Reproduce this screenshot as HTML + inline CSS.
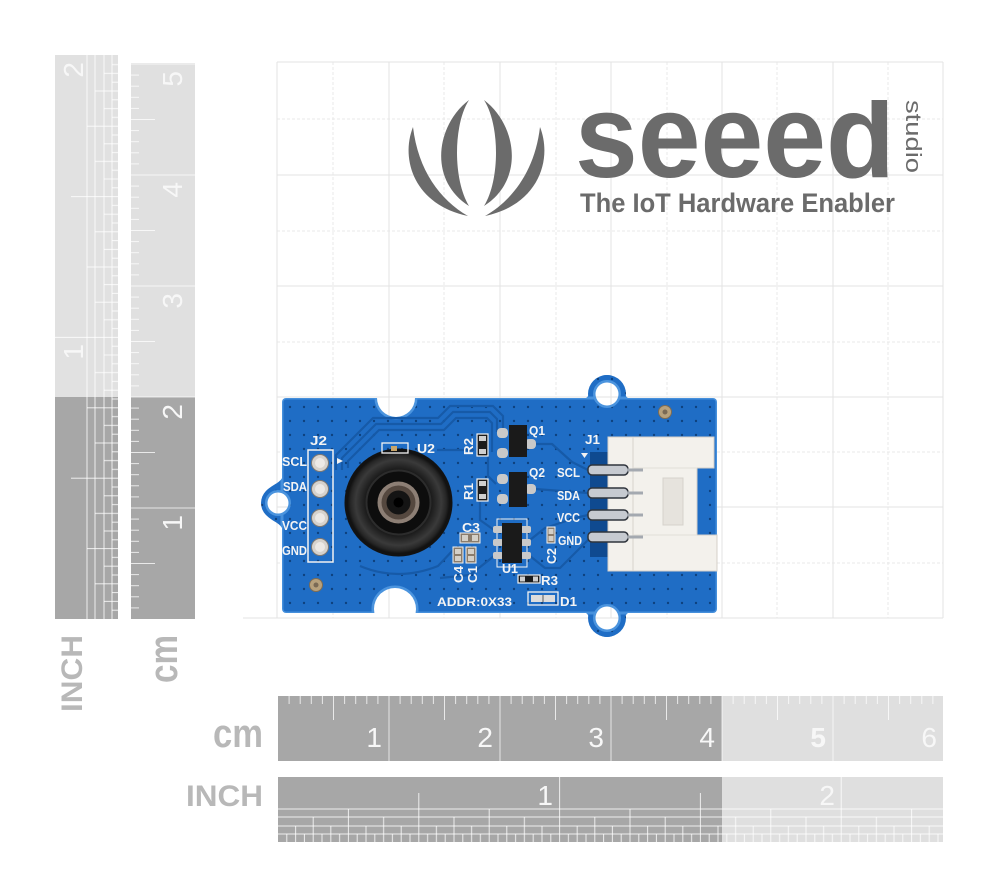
<!DOCTYPE html>
<html>
<head>
<meta charset="utf-8">
<style>
  html,body{margin:0;padding:0;background:#fff;}
  svg{display:block;}
</style>
</head>
<body>
<svg width="998" height="894" viewBox="0 0 998 894" xmlns="http://www.w3.org/2000/svg" font-family="'Liberation Sans', sans-serif">
  <defs>
    <pattern id="cmT" width="111" height="65" patternUnits="userSpaceOnUse">
      <g stroke="#ffffff" stroke-opacity="0.75" stroke-width="1">
        <line x1="11.1" y1="0" x2="11.1" y2="8"/>
        <line x1="22.2" y1="0" x2="22.2" y2="8"/>
        <line x1="33.3" y1="0" x2="33.3" y2="8"/>
        <line x1="44.4" y1="0" x2="44.4" y2="8"/>
        <line x1="55.5" y1="0" x2="55.5" y2="24"/>
        <line x1="66.6" y1="0" x2="66.6" y2="8"/>
        <line x1="77.7" y1="0" x2="77.7" y2="8"/>
        <line x1="88.8" y1="0" x2="88.8" y2="8"/>
        <line x1="99.9" y1="0" x2="99.9" y2="8"/>
      </g>
    </pattern>
    <pattern id="inT" width="281.6" height="65" patternUnits="userSpaceOnUse">
      <g stroke="#ffffff" stroke-opacity="0.8" stroke-width="1">
        <line x1="140.8" y1="16" x2="140.8" y2="65"/>
        <line x1="70.4" y1="32" x2="70.4" y2="65"/>
        <line x1="211.2" y1="32" x2="211.2" y2="65"/>
        <line x1="35.2" y1="40" x2="35.2" y2="65"/>
        <line x1="105.6" y1="40" x2="105.6" y2="65"/>
        <line x1="176" y1="40" x2="176" y2="65"/>
        <line x1="246.4" y1="40" x2="246.4" y2="65"/>
        <line x1="17.6" y1="49" x2="17.6" y2="65"/>
        <line x1="52.8" y1="49" x2="52.8" y2="65"/>
        <line x1="88" y1="49" x2="88" y2="65"/>
        <line x1="123.2" y1="49" x2="123.2" y2="65"/>
        <line x1="158.4" y1="49" x2="158.4" y2="65"/>
        <line x1="193.6" y1="49" x2="193.6" y2="65"/>
        <line x1="228.8" y1="49" x2="228.8" y2="65"/>
        <line x1="264" y1="49" x2="264" y2="65"/>
        <line x1="8.8" y1="57" x2="8.8" y2="65"/>
        <line x1="26.4" y1="57" x2="26.4" y2="65"/>
        <line x1="44" y1="57" x2="44" y2="65"/>
        <line x1="61.6" y1="57" x2="61.6" y2="65"/>
        <line x1="79.2" y1="57" x2="79.2" y2="65"/>
        <line x1="96.8" y1="57" x2="96.8" y2="65"/>
        <line x1="114.4" y1="57" x2="114.4" y2="65"/>
        <line x1="132" y1="57" x2="132" y2="65"/>
        <line x1="149.6" y1="57" x2="149.6" y2="65"/>
        <line x1="167.2" y1="57" x2="167.2" y2="65"/>
        <line x1="184.8" y1="57" x2="184.8" y2="65"/>
        <line x1="202.4" y1="57" x2="202.4" y2="65"/>
        <line x1="220" y1="57" x2="220" y2="65"/>
        <line x1="237.6" y1="57" x2="237.6" y2="65"/>
        <line x1="255.2" y1="57" x2="255.2" y2="65"/>
        <line x1="272.8" y1="57" x2="272.8" y2="65"/>
      </g>
    </pattern>
    <pattern id="vias" x="284" y="401" width="14" height="14" patternUnits="userSpaceOnUse">
      <circle cx="6" cy="6" r="1.2" fill="#0b3a72" fill-opacity="0.85"/>
    </pattern>
    <radialGradient id="lensG" cx="50%" cy="50%" r="50%">
      <stop offset="0%" stop-color="#0b0b0b"/>
      <stop offset="62%" stop-color="#161616"/>
      <stop offset="84%" stop-color="#3a3a3a"/>
      <stop offset="94%" stop-color="#262626"/>
      <stop offset="100%" stop-color="#111"/>
    </radialGradient>
    <clipPath id="seeedClip">
      <rect x="560" y="100" width="360" height="100"/>
    </clipPath>
    <mask id="bm" maskUnits="userSpaceOnUse" x="0" y="0" width="998" height="894">
      <rect x="0" y="0" width="998" height="894" fill="#000"/>
      <g fill="#fff">
        <rect x="282" y="398" width="435" height="215" rx="4"/>
        <path d="M283,474 C283,486 262,484 262,503 C262,522 283,520 283,532 Z"/>
        <circle cx="278" cy="503" r="17"/>
        <path d="M583,399 C593,399 590,375 607,375 C624,375 621,399 631,399 Z"/>
        <circle cx="607" cy="394" r="19"/>
        <path d="M583,612 C593,612 590,637 607,637 C624,637 621,612 631,612 Z"/>
        <circle cx="607" cy="618" r="19"/>
      </g>
      <g fill="#000">
        <circle cx="278" cy="503" r="10.5"/>
        <circle cx="607" cy="394" r="11.5"/>
        <circle cx="607" cy="618" r="11.5"/>
        <circle cx="396" cy="398" r="19"/>
        <circle cx="395" cy="609" r="21"/>
      </g>
    </mask>
  </defs>

  <rect x="0" y="0" width="998" height="894" fill="#ffffff"/>

  <!-- GRID -->
  <g stroke="#e9e9e9" stroke-width="1" stroke-dasharray="3 2" fill="none">
    <line x1="333" y1="62" x2="333" y2="618"/>
    <line x1="444" y1="62" x2="444" y2="618"/>
    <line x1="556" y1="62" x2="556" y2="618"/>
    <line x1="667" y1="62" x2="667" y2="618"/>
    <line x1="777" y1="62" x2="777" y2="618"/>
    <line x1="888" y1="62" x2="888" y2="618"/>
    <line x1="277" y1="119" x2="943" y2="119"/>
    <line x1="277" y1="231" x2="943" y2="231"/>
    <line x1="277" y1="342" x2="943" y2="342"/>
    <line x1="277" y1="452" x2="943" y2="452"/>
    <line x1="277" y1="563" x2="943" y2="563"/>
  </g>
  <g stroke="#e3e3e3" stroke-width="1" fill="none">
    <line x1="277" y1="62" x2="277" y2="618"/>
    <line x1="389" y1="62" x2="389" y2="618"/>
    <line x1="500" y1="62" x2="500" y2="618"/>
    <line x1="611" y1="62" x2="611" y2="618"/>
    <line x1="722" y1="62" x2="722" y2="618"/>
    <line x1="833" y1="62" x2="833" y2="618"/>
    <line x1="943" y1="62" x2="943" y2="618"/>
    <line x1="277" y1="62" x2="943" y2="62"/>
    <line x1="277" y1="175" x2="943" y2="175"/>
    <line x1="277" y1="286" x2="943" y2="286"/>
    <line x1="277" y1="397" x2="943" y2="397"/>
    <line x1="277" y1="507" x2="943" y2="507"/>
    <line x1="243" y1="618" x2="943" y2="618"/>
  </g>

  <!-- BOTTOM CM RULER -->
  <g transform="translate(278,696)">
    <rect x="0" y="0" width="444" height="65" fill="#a7a7a7"/>
    <rect x="444" y="0" width="221" height="65" fill="#dfdfdf"/>
    <rect x="0" y="0" width="665" height="65" fill="url(#cmT)"/>
    <g stroke="#ffffff" stroke-opacity="0.7" stroke-width="1">
      <line x1="111" y1="0" x2="111" y2="65"/>
      <line x1="222" y1="0" x2="222" y2="65"/>
      <line x1="333" y1="0" x2="333" y2="65"/>
      <line x1="444" y1="0" x2="444" y2="65"/>
      <line x1="555" y1="0" x2="555" y2="65"/>
    </g>
    <g fill="#f7f7f7" font-size="28" text-anchor="end">
      <text x="104" y="51">1</text>
      <text x="215" y="51">2</text>
      <text x="326" y="51">3</text>
      <text x="437" y="51">4</text>
      <text x="548" y="51" font-weight="bold">5</text>
      <text x="659" y="51">6</text>
    </g>
  </g>

  <!-- BOTTOM INCH RULER -->
  <g transform="translate(278,777)">
    <rect x="0" y="0" width="444" height="65" fill="#a7a7a7"/>
    <rect x="444" y="0" width="221" height="65" fill="#dfdfdf"/>
    <rect x="0" y="0" width="665" height="65" fill="url(#inT)"/>
    <g stroke="#ffffff" stroke-opacity="0.8" stroke-width="1">
      <line x1="0" y1="32" x2="665" y2="32"/>
      <line x1="0" y1="40" x2="665" y2="40"/>
      <line x1="0" y1="49" x2="665" y2="49"/>
      <line x1="0" y1="57" x2="665" y2="57"/>
      <line x1="281.6" y1="0" x2="281.6" y2="65"/>
      <line x1="563.2" y1="0" x2="563.2" y2="65"/>
    </g>
    <g fill="#f7f7f7" font-size="28" text-anchor="end">
      <text x="275" y="28">1</text>
      <text x="557" y="28">2</text>
    </g>
  </g>

  <!-- LEFT INCH RULER -->
  <g transform="translate(55,619) rotate(-90)">
    <rect x="0" y="0" width="222" height="63" fill="#a7a7a7"/>
    <rect x="222" y="0" width="342" height="63" fill="#e1e1e1"/>
    <rect x="0" y="0" width="564" height="63" fill="url(#inT)"/>
    <g stroke="#ffffff" stroke-opacity="0.8" stroke-width="1">
      <line x1="0" y1="32" x2="564" y2="32"/>
      <line x1="0" y1="40" x2="564" y2="40"/>
      <line x1="0" y1="49" x2="564" y2="49"/>
      <line x1="0" y1="57" x2="564" y2="57"/>
      <line x1="281.6" y1="0" x2="281.6" y2="63"/>
    </g>
    <g fill="#f7f7f7" font-size="28" text-anchor="end">
      <text x="275" y="28">1</text>
      <text x="557" y="28">2</text>
    </g>
  </g>

  <!-- LEFT CM RULER -->
  <g transform="translate(131,619) rotate(-90)">
    <rect x="0" y="0" width="222" height="64" fill="#a7a7a7"/>
    <rect x="222" y="0" width="334" height="64" fill="#e0e0e0"/>
    <rect x="0" y="0" width="556" height="64" fill="url(#cmT)"/>
    <g stroke="#ffffff" stroke-opacity="0.7" stroke-width="1">
      <line x1="111" y1="0" x2="111" y2="64"/>
      <line x1="222" y1="0" x2="222" y2="64"/>
      <line x1="333" y1="0" x2="333" y2="64"/>
      <line x1="444" y1="0" x2="444" y2="64"/>
      <line x1="555" y1="0" x2="555" y2="64"/>
    </g>
    <g fill="#f7f7f7" font-size="28" text-anchor="end">
      <text x="104" y="51">1</text>
      <text x="215" y="51">2</text>
      <text x="326" y="51">3</text>
      <text x="437" y="51">4</text>
      <text x="548" y="51">5</text>
    </g>
  </g>

  <!-- RULER LABELS -->
  <g fill="#b8b8b8" font-weight="bold">
    <text x="213" y="747" font-size="40" textLength="50" lengthAdjust="spacingAndGlyphs">cm</text>
    <text x="186" y="806" font-size="30" textLength="77" lengthAdjust="spacingAndGlyphs">INCH</text>
    <text transform="translate(82,712) rotate(-90)" x="0" y="0" font-size="30" textLength="77" lengthAdjust="spacingAndGlyphs">INCH</text>
    <text transform="translate(177,683) rotate(-90)" x="0" y="0" font-size="40" textLength="48" lengthAdjust="spacingAndGlyphs">cm</text>
  </g>

  <!-- LOGO -->
  <g fill="#6b6b6b">
    <path d="M413,127 C400,160 415,205 468,216 C440,200 418,170 413,127 Z"/>
    <path d="M469,100 C436,125 428,180 469,206 C453,180 453,125 469,100 Z"/>
    <g transform="translate(953,0) scale(-1,1)">
      <path d="M413,127 C400,160 415,205 468,216 C440,200 418,170 413,127 Z"/>
      <path d="M469,100 C436,125 428,180 469,206 C453,180 453,125 469,100 Z"/>
    </g>
    <text clip-path="url(#seeedClip)" x="575" y="177" font-size="119" font-weight="bold" textLength="320" lengthAdjust="spacingAndGlyphs">seeed</text>
    <text x="580" y="212" font-size="27" font-weight="bold" textLength="315" lengthAdjust="spacingAndGlyphs">The IoT Hardware Enabler</text>
    <text transform="translate(906,100) rotate(90)" x="0" y="0" font-size="22" textLength="73" lengthAdjust="spacingAndGlyphs">studio</text>
  </g>

  <!-- PCB -->
  <g mask="url(#bm)">
    <rect x="255" y="370" width="470" height="275" fill="#1f6dc5"/>
    <rect x="255" y="370" width="470" height="275" fill="url(#vias)"/>
    <rect x="282" y="398" width="435" height="215" rx="4" fill="none" stroke="#4690dc" stroke-width="3"/>
    <g fill="none" stroke="#4b94de" stroke-width="5">
      <circle cx="278" cy="503" r="10.5"/>
      <circle cx="607" cy="394" r="11.5"/>
      <circle cx="607" cy="618" r="11.5"/>
      <circle cx="396" cy="398" r="19"/>
      <circle cx="395" cy="609" r="21"/>
    </g>
    <g fill="none" stroke="#165aa8" stroke-width="2.2" stroke-linejoin="round">
      <path d="M336,470 L336,455 L373,418 L438,418 L450,406 L493,406 L503,416 L503,428"/>
      <path d="M342,470 L342,458 L376,424 L441,424 L453,412 L490,412 L497,419 L497,432"/>
      <path d="M348,468 L348,461 L379,430 L444,430 L456,418 L487,418 L492,423 L492,452"/>
      <path d="M437,450 L474,450"/>
      <path d="M360,566 Q398,582 438,566 L455,548"/>
      <path d="M488,456 L488,476 L496,484"/>
      <path d="M535,444 L552,444 L572,462 L588,470"/>
      <path d="M535,489 L588,493"/>
      <path d="M530,540 L545,528 L575,518 L588,515"/>
      <path d="M480,502 L480,520 L494,530"/>
      <path d="M494,556 L470,575 L440,578"/>
      <path d="M530,556 L545,568 L560,568 L588,540"/>
    </g>
  </g>

  <!-- J2 header -->
  <rect x="308" y="450" width="25" height="112" fill="none" stroke="#f2f2f2" stroke-width="1.5"/>
  <g fill="#d6d2cd" stroke="#7d7872" stroke-width="1">
    <circle cx="320" cy="463" r="8.5"/>
    <circle cx="320" cy="489" r="8.5"/>
    <circle cx="320" cy="518" r="8.5"/>
    <circle cx="320" cy="547" r="8.5"/>
  </g>
  <g fill="#ece9e6">
    <circle cx="320" cy="463" r="5"/>
    <circle cx="320" cy="489" r="5"/>
    <circle cx="320" cy="518" r="5"/>
    <circle cx="320" cy="547" r="5"/>
  </g>
  <polygon points="337,458 343,461 337,464" fill="#f2f2f2"/>

  <!-- Gold vias -->
  <circle cx="316" cy="585" r="6.5" fill="#b7a17c" stroke="#7f6c52" stroke-width="1"/>
  <circle cx="316" cy="585" r="2.5" fill="#7a6a55"/>
  <circle cx="665" cy="412" r="6.5" fill="#b7a17c" stroke="#7f6c52" stroke-width="1"/>
  <circle cx="665" cy="412" r="2.5" fill="#7a6a55"/>

  <!-- Lens -->
  <circle cx="398.5" cy="502.5" r="54" fill="#121212"/>
  <circle cx="398.5" cy="502.5" r="51" fill="url(#lensG)"/>
  <circle cx="398.5" cy="502.5" r="32" fill="#0d0d0d" stroke="#2c2c2c" stroke-width="2"/>
  <circle cx="398.5" cy="502.5" r="21" fill="#8d7f75"/>
  <circle cx="398.5" cy="502.5" r="17" fill="#55483f"/>
  <circle cx="398.5" cy="502.5" r="12" fill="#141414"/>
  <circle cx="398.5" cy="502.5" r="5" fill="#000"/>

  <!-- U2 box -->
  <rect x="382" y="443" width="26" height="10" fill="none" stroke="#f2f2f2" stroke-width="1.3"/>
  <rect x="391" y="446" width="6" height="5" fill="#c9a66a"/>

  <!-- R2, R1 -->
  <rect x="477" y="434" width="11" height="22" fill="#1b1b1b" stroke="#f2f2f2" stroke-width="1.2"/>
  <rect x="479" y="436" width="7" height="5" fill="#cfcfcf"/>
  <rect x="479" y="449" width="7" height="5" fill="#cfcfcf"/>
  <rect x="477" y="479" width="11" height="22" fill="#1b1b1b" stroke="#f2f2f2" stroke-width="1.2"/>
  <rect x="479" y="481" width="7" height="5" fill="#cfcfcf"/>
  <rect x="479" y="494" width="7" height="5" fill="#cfcfcf"/>
  <!-- C3 -->
  <rect x="460" y="533" width="20" height="10" fill="#8a7c6c" stroke="#f2f2f2" stroke-width="1"/>
  <rect x="462" y="535" width="6" height="6" fill="#d4d0c8"/>
  <rect x="472" y="535" width="6" height="6" fill="#d4d0c8"/>
  <!-- C4, C1 -->
  <rect x="453" y="547" width="10" height="16" fill="#8a7c6c" stroke="#f2f2f2" stroke-width="1"/>
  <rect x="455" y="549" width="6" height="5" fill="#d4d0c8"/>
  <rect x="455" y="556" width="6" height="5" fill="#d4d0c8"/>
  <rect x="466" y="547" width="10" height="16" fill="#8a7c6c" stroke="#f2f2f2" stroke-width="1"/>
  <rect x="468" y="549" width="6" height="5" fill="#d4d0c8"/>
  <rect x="468" y="556" width="6" height="5" fill="#d4d0c8"/>
  <!-- C2 -->
  <rect x="547" y="527" width="8" height="16" fill="#8a7c6c" stroke="#f2f2f2" stroke-width="1"/>
  <rect x="548.5" y="529" width="5" height="5" fill="#d4d0c8"/>
  <rect x="548.5" y="536" width="5" height="5" fill="#d4d0c8"/>

  <!-- Q1, Q2 -->
  <g fill="#c9c9c9">
    <rect x="497" y="428" width="11" height="10" rx="4"/>
    <rect x="497" y="448" width="11" height="10" rx="4"/>
    <rect x="525" y="439" width="11" height="10" rx="4"/>
    <rect x="497" y="474" width="11" height="10" rx="4"/>
    <rect x="497" y="494" width="11" height="10" rx="4"/>
    <rect x="525" y="484" width="11" height="10" rx="4"/>
  </g>
  <rect x="509" y="425" width="18" height="32" fill="#1a1a1a"/>
  <rect x="509" y="472" width="18" height="35" fill="#1a1a1a"/>
  <!-- U1 -->
  <rect x="497" y="519" width="30" height="48" fill="none" stroke="#f2f2f2" stroke-width="1"/>
  <g fill="#c9c9c9">
    <rect x="493" y="526" width="10" height="7" rx="2"/>
    <rect x="493" y="539" width="10" height="7" rx="2"/>
    <rect x="493" y="552" width="10" height="7" rx="2"/>
    <rect x="521" y="526" width="10" height="7" rx="2"/>
    <rect x="521" y="539" width="10" height="7" rx="2"/>
    <rect x="521" y="552" width="10" height="7" rx="2"/>
  </g>
  <rect x="502" y="523" width="20" height="40" fill="#1a1a1a"/>
  <!-- R3 -->
  <rect x="518" y="575" width="22" height="8" fill="#1a1a1a" stroke="#f2f2f2" stroke-width="1.2"/>
  <rect x="520" y="576.5" width="5" height="5" fill="#cfcfcf"/>
  <rect x="533" y="576.5" width="5" height="5" fill="#cfcfcf"/>
  <!-- D1 -->
  <rect x="528" y="592" width="30" height="13" fill="none" stroke="#f2f2f2" stroke-width="1.3"/>
  <rect x="531" y="595" width="24" height="7" fill="#dcdcdc"/>
  <rect x="542" y="595" width="2" height="7" fill="#9a9a9a"/>

  <!-- J1 connector -->
  <rect x="590" y="452" width="37" height="105" fill="#0f4a90"/>
  <polygon points="581,453 588,453 584.5,458" fill="#f2f2f2"/>
  <path d="M608,437 H714 V468 H697 V535 H717 V571 H608 Z" fill="#f3f1ec" stroke="#d4d0c9" stroke-width="1"/>
  <line x1="633" y1="437" x2="633" y2="571" stroke="#dcd8d1" stroke-width="1.2"/>
  <line x1="633" y1="468" x2="697" y2="468" stroke="#e2ded8" stroke-width="1"/>
  <line x1="633" y1="535" x2="697" y2="535" stroke="#e2ded8" stroke-width="1"/>
  <rect x="663" y="478" width="20" height="47" fill="#e6e3dd" stroke="#d6d2cb" stroke-width="1"/>
  <rect x="588" y="465" width="40" height="10" rx="4" fill="#c6cad0" stroke="#2f343c" stroke-width="1.5"/>
  <rect x="627" y="468.5" width="16" height="3" fill="#a4a9b0"/>
  <rect x="588" y="488" width="40" height="10" rx="4" fill="#c6cad0" stroke="#2f343c" stroke-width="1.5"/>
  <rect x="627" y="491.5" width="16" height="3" fill="#a4a9b0"/>
  <rect x="588" y="510" width="40" height="10" rx="4" fill="#c6cad0" stroke="#2f343c" stroke-width="1.5"/>
  <rect x="627" y="513.5" width="16" height="3" fill="#a4a9b0"/>
  <rect x="588" y="532" width="40" height="10" rx="4" fill="#c6cad0" stroke="#2f343c" stroke-width="1.5"/>
  <rect x="627" y="535.5" width="16" height="3" fill="#a4a9b0"/>

  <!-- PCB silkscreen text -->
  <g fill="#f4f4f4" font-weight="bold" font-size="13">
    <text x="310" y="445" textLength="17" lengthAdjust="spacingAndGlyphs">J2</text>
    <text x="282" y="466" textLength="25" lengthAdjust="spacingAndGlyphs">SCL</text>
    <text x="283" y="491" textLength="24" lengthAdjust="spacingAndGlyphs">SDA</text>
    <text x="282" y="530" textLength="25" lengthAdjust="spacingAndGlyphs">VCC</text>
    <text x="282" y="555" textLength="25" lengthAdjust="spacingAndGlyphs">GND</text>
    <text x="417" y="453" textLength="18" lengthAdjust="spacingAndGlyphs">U2</text>
    <text transform="translate(473,455) rotate(-90)" x="0" y="0" textLength="17" lengthAdjust="spacingAndGlyphs">R2</text>
    <text transform="translate(473,500) rotate(-90)" x="0" y="0" textLength="17" lengthAdjust="spacingAndGlyphs">R1</text>
    <text x="462" y="532" textLength="18" lengthAdjust="spacingAndGlyphs">C3</text>
    <text transform="translate(463,583) rotate(-90)" x="0" y="0" textLength="17" lengthAdjust="spacingAndGlyphs">C4</text>
    <text transform="translate(477,583) rotate(-90)" x="0" y="0" textLength="17" lengthAdjust="spacingAndGlyphs">C1</text>
    <text transform="translate(556,564) rotate(-90)" x="0" y="0" textLength="16" lengthAdjust="spacingAndGlyphs">C2</text>
    <text x="502" y="573" textLength="16" lengthAdjust="spacingAndGlyphs">U1</text>
    <text x="541" y="585" textLength="17" lengthAdjust="spacingAndGlyphs">R3</text>
    <text x="437" y="606" font-size="12" textLength="75" lengthAdjust="spacingAndGlyphs">ADDR:0X33</text>
    <text x="560" y="606" textLength="17" lengthAdjust="spacingAndGlyphs">D1</text>
    <text x="529" y="435" textLength="16" lengthAdjust="spacingAndGlyphs">Q1</text>
    <text x="529" y="477" textLength="16" lengthAdjust="spacingAndGlyphs">Q2</text>
    <text x="585" y="444" textLength="15" lengthAdjust="spacingAndGlyphs">J1</text>
    <text x="557" y="477" textLength="23" lengthAdjust="spacingAndGlyphs">SCL</text>
    <text x="557" y="500" textLength="23" lengthAdjust="spacingAndGlyphs">SDA</text>
    <text x="557" y="522" textLength="23" lengthAdjust="spacingAndGlyphs">VCC</text>
    <text x="558" y="545" textLength="24" lengthAdjust="spacingAndGlyphs">GND</text>
  </g>
</svg>
</body>
</html>
